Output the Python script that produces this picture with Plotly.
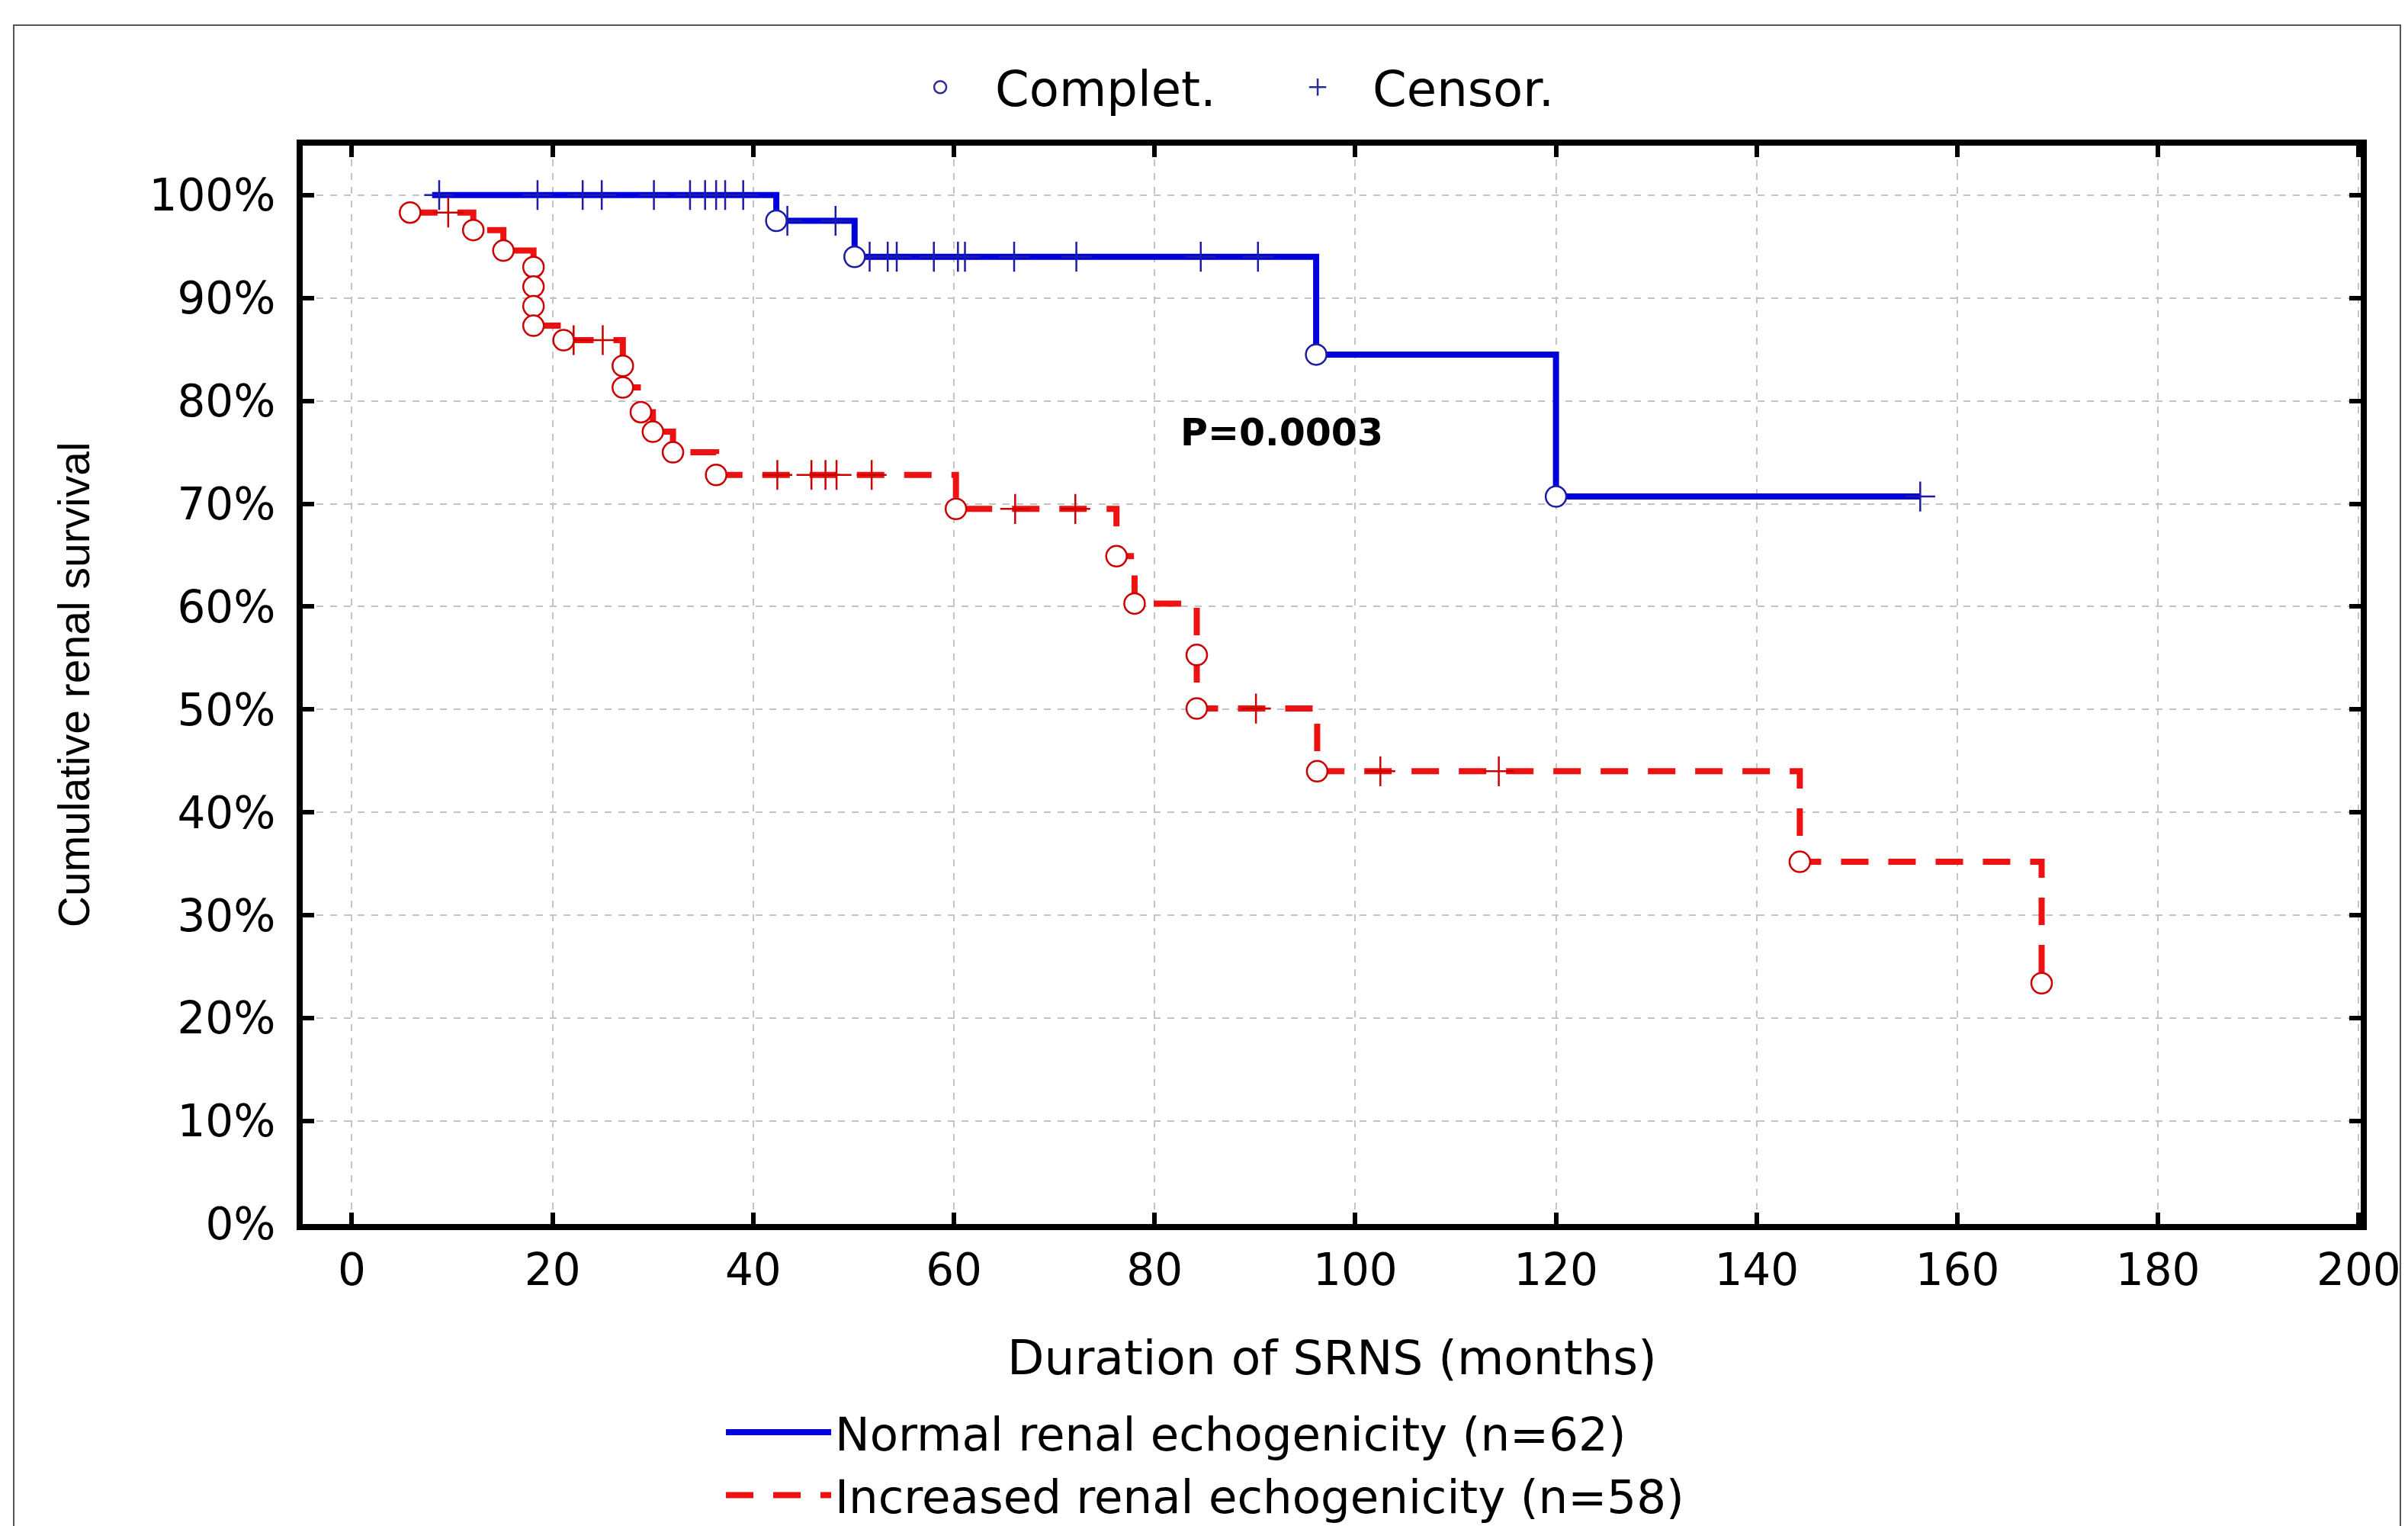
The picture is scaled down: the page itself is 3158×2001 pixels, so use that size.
import plotly.graph_objects as go

# ---------------- data ----------------
# Normal renal echogenicity (n=62)
blue_start = 8.0
blue_event_t = [42.3, 50.1, 96.1, 120.0]
blue_event_s = [97.5, 94.0, 84.5, 70.7]
blue_cens_t = [8.7, 18.5, 23.0, 24.9, 30.1, 33.7, 35.2, 36.3, 37.2, 39.0,
               43.4, 48.2, 51.6, 53.4, 54.3, 58.0, 60.4, 61.1, 66.0, 72.2,
               84.6, 90.3, 156.3]
blue_end = 156.3

# Increased renal echogenicity (n=58)
red_start = 5.8
red_event_t = [5.8, 12.1, 15.1, 18.1, 18.1, 18.1, 18.1, 21.1, 27.0, 27.0,
               28.8, 30.0, 32.0, 36.3, 60.2, 76.2, 78.0, 84.2, 84.2, 96.2,
               144.3, 168.4]
red_event_s = [98.3, 96.6, 94.6, 93.0, 91.1, 89.2, 87.3, 85.9, 83.4, 81.3,
               78.9, 77.0, 75.0, 72.8, 69.5, 64.9, 60.3, 55.3, 50.1, 44.0,
               35.2, 23.4]
red_cens_t = [9.6, 22.1, 25.0, 42.4, 45.8, 47.2, 48.3, 51.8, 66.1, 72.1,
              90.1, 102.5, 114.3]
red_end = 168.4

x_ticks = [0, 20, 40, 60, 80, 100, 120, 140, 160, 180, 200]
y_ticks = [0, 10, 20, 30, 40, 50, 60, 70, 80, 90, 100]
y_ticktext = [f"{v}%" for v in y_ticks]

name_blue = "Normal renal echogenicity (n=62)"
name_red = "Increased renal echogenicity (n=58)"
name_complete = "Complet."
name_censor = "Censor."
x_title = "Duration of SRNS (months)"
y_title = "Cumulative renal survival"
p_text = "P=0.0003"

# ---------------- helpers ----------------
def surv_at(t, ev_t, ev_s):
    s = 100.0
    for et, es in zip(ev_t, ev_s):
        if et <= t:
            s = es
    return s

def step_path(start, ev_t, ev_s, end):
    xs, ys = [], []
    if start < ev_t[0]:
        xs.append(start)
        ys.append(100.0)
    xs += list(ev_t)
    ys += list(ev_s)
    if end > ev_t[-1]:
        xs.append(end)
        ys.append(ev_s[-1])
    return xs, ys

BLUE = "#0000dd"
BLUE_M = "#1c1ca8"
RED = "#ee1111"
RED_M = "#cc0000"
LEG_M = "#2a2a9a"
FONT = "DejaVu Sans"

fig = go.Figure()

# lines
bx, by = step_path(blue_start, blue_event_t, blue_event_s, blue_end)
fig.add_trace(go.Scatter(x=bx, y=by, mode="lines", line_shape="hv",
                         line=dict(color=BLUE, width=8),
                         name=name_blue, legend="legend2"))
rx, ry = step_path(red_start, red_event_t, red_event_s, red_end)
fig.add_trace(go.Scatter(x=rx, y=ry, mode="lines", line_shape="hv",
                         line=dict(color=RED, width=8, dash="36px,26px"),
                         name=name_red, legend="legend2"))

# censored markers
fig.add_trace(go.Scatter(x=blue_cens_t,
                         y=[surv_at(t, blue_event_t, blue_event_s) for t in blue_cens_t],
                         mode="markers", showlegend=False,
                         marker=dict(symbol="cross-thin-open", size=28, color=BLUE_M,
                                     line=dict(color=BLUE_M, width=2.5))))
fig.add_trace(go.Scatter(x=red_cens_t,
                         y=[surv_at(t, red_event_t, red_event_s) for t in red_cens_t],
                         mode="markers", showlegend=False,
                         marker=dict(symbol="cross-thin-open", size=28, color=RED_M,
                                     line=dict(color=RED_M, width=2.5))))

# complete (event) markers
fig.add_trace(go.Scatter(x=blue_event_t, y=blue_event_s, mode="markers",
                         showlegend=False,
                         marker=dict(symbol="circle", size=27, color="white",
                                     line=dict(color=BLUE_M, width=2.5))))
fig.add_trace(go.Scatter(x=red_event_t, y=red_event_s, mode="markers",
                         showlegend=False,
                         marker=dict(symbol="circle", size=27, color="white",
                                     line=dict(color=RED_M, width=2.5))))

# top legend entries
fig.add_trace(go.Scatter(x=[None], y=[None], mode="markers", name=name_complete,
                         legend="legend",
                         marker=dict(symbol="circle-open", size=20, color=LEG_M,
                                     line=dict(color=LEG_M, width=2.5))))
fig.add_trace(go.Scatter(x=[None], y=[None], mode="markers", name=name_censor,
                         legend="legend",
                         marker=dict(symbol="cross-thin-open", size=28, color=LEG_M,
                                     line=dict(color=LEG_M, width=2.5))))

axis_common = dict(
    showline=True, linewidth=8, linecolor="black", mirror="allticks",
    ticks="inside", ticklen=15, tickwidth=6, tickcolor="black",
    showgrid=True, gridcolor="#c4c4c4", gridwidth=2, griddash="dash",
    zeroline=False, tickfont=dict(family=FONT, size=58, color="black"),
)

fig.update_layout(
    width=3158, height=2001,
    margin=dict(l=397, r=62, t=191, b=396, autoexpand=False),
    paper_bgcolor="white", plot_bgcolor="white",
    xaxis=dict(range=[-4.9, 200.2], tickvals=x_ticks, ticklabelstandoff=2,
               **axis_common),
    yaxis=dict(range=[0, 104.8], tickvals=y_ticks, ticktext=y_ticktext,
               ticklabelstandoff=16, **axis_common),
    legend=dict(orientation="h", x=0.2831, xanchor="left", y=1.054,
                yanchor="middle", font=dict(family=FONT, size=64, color="black"),
                bgcolor="rgba(0,0,0,0)", itemwidth=134,
                entrywidth=346, entrywidthmode="pixels"),
    legend2=dict(orientation="v", x=0.2038, xanchor="left", y=-0.1605,
                 yanchor="top", font=dict(family=FONT, size=61, color="black"),
                 bgcolor="rgba(0,0,0,0)", itemwidth=138, tracegroupgap=0),
    showlegend=True,
)

fig.add_annotation(text=x_title, xref="paper", yref="paper", x=0.5, y=-0.1238,
                   xanchor="center", yanchor="middle", showarrow=False,
                   font=dict(family=FONT, size=63, color="black"))
fig.add_annotation(text=y_title, xref="paper", yref="paper", x=-0.1111, y=0.5,
                   xanchor="center", yanchor="middle", textangle=-90,
                   showarrow=False,
                   font=dict(family="Liberation Sans", size=57, color="black"))
fig.add_annotation(text="<b>" + p_text + "</b>", xref="x", yref="y", x=92.7,
                   y=76.9, xanchor="center", yanchor="middle", showarrow=False,
                   font=dict(family=FONT, size=49, color="black"))

# outer frame of the figure
fig.add_shape(type="rect", xref="paper", yref="paper",
              x0=(18 - 397) / 2699, x1=(3148 - 397) / 2699,
              y0=(1605 - 2030) / 1414, y1=1 + (191 - 33) / 1414,
              line=dict(color="#555555", width=2), fillcolor="rgba(0,0,0,0)",
              layer="below")

fig.write_html("out.html")
